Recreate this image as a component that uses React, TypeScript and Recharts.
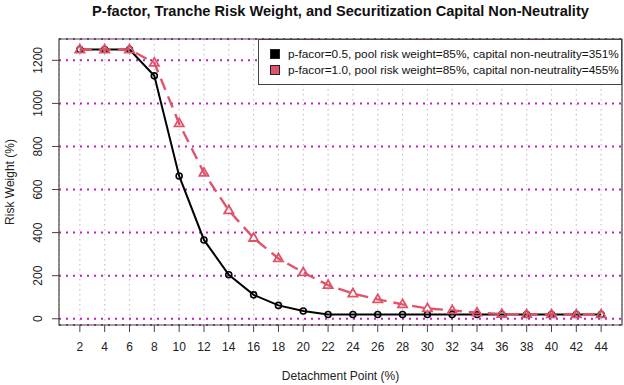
import { LineChart, Line, XAxis, YAxis, CartesianGrid, ReferenceArea } from 'recharts'

const detachment = [2, 4, 6, 8, 10, 12, 14, 16, 18, 20, 22, 24, 26, 28, 30, 32, 34, 36, 38, 40, 42, 44]
const rwHalf = [1250, 1250, 1250, 1128, 663, 366, 204, 111, 62, 36, 20, 20, 20, 20, 20, 20, 20, 20, 20, 20, 20, 20]
const rwOne = [1250, 1250, 1250, 1188, 907, 677, 503, 375, 280, 215, 156, 117, 90, 67, 48, 39, 28, 22, 20, 20, 20, 20]
const yTicks = [0, 200, 400, 600, 800, 1000, 1200]
const xDomain = [0.32, 45.68]
const yDomain = [-29, 1299]

const series = [
  { key: 'half', label: 'p-facor=0.5, pool risk weight=85%, capital non-neutrality=351%', color: '#000000' },
  { key: 'one', label: 'p-facor=1.0, pool risk weight=85%, capital non-neutrality=455%', color: '#DF536B' },
]

const data = detachment.map((d, i) => ({ d, half: rwHalf[i], one: rwOne[i] }))

const FONT = '"Liberation Sans", Arial, sans-serif'
const AXIS = '#444'

const YTick = ({ x, y, payload }: any) => (
  <text x={x} y={y} transform={`rotate(-90, ${x}, ${y})`} textAnchor="middle"
        fontSize={12} fill="#222" fontFamily={FONT}>{payload.value}</text>
)

const CircleDot = ({ cx, cy }: any) =>
  cx == null ? null : <circle cx={cx} cy={cy} r={3} fill="none" stroke="#000" strokeWidth={1.6} />

const TriDot = ({ cx, cy }: any) =>
  cx == null ? null : (
    <polygon points={`${cx},${cy - 5} ${cx - 4.6},${cy + 3} ${cx + 4.6},${cy + 3}`}
             fill="none" stroke="#DF536B" strokeWidth={1.8} />
  )

const LegendBox = () => (
  <div style={{ position: 'absolute', left: 258, top: 39, width: 351, border: `1px solid ${AXIS}`,
                background: '#fff', padding: '6px 0 6px 11px', fontSize: 11.8, color: '#111',
                lineHeight: '16px', whiteSpace: 'nowrap' }}>
    {series.map(s => (
      <div key={s.key} style={{ display: 'flex', alignItems: 'center' }}>
        <span style={{ display: 'inline-block', width: 8, height: 8, background: s.color,
                       border: '1px solid #222', marginRight: 8 }} />
        {s.label}
      </div>
    ))}
  </div>
)

export default function App() {
  return (
    <div style={{ position: 'absolute', left: 0, top: 0, width: 624, height: 385, background: '#fff', fontFamily: FONT }}>
      <div style={{ position: 'absolute', left: 59, width: 563, top: 3, textAlign: 'center',
                    fontWeight: 'bold', fontSize: 14.6, color: '#111' }}>
        P-factor, Tranche Risk Weight, and Securitization Capital Non-Neutrality
      </div>
      <LineChart width={624} height={385} data={data} margin={{ top: 39, right: 2, left: 0, bottom: 0 }}>
        <CartesianGrid horizontal={false} stroke="#c4c4c4" strokeDasharray="1.5 3.5" strokeWidth={1.2} />
        <CartesianGrid vertical={false} stroke="#C020C0" strokeDasharray="2 5" strokeWidth={2} />
        <XAxis dataKey="d" type="number" domain={xDomain} ticks={detachment} interval={0}
               height={60} axisLine={false} tickSize={7} tickMargin={10}
               tickLine={{ stroke: AXIS }} tick={{ fontSize: 12, fill: '#222', fontFamily: FONT }}
               label={{ content: ({ viewBox }: any) => (
                 <text x={viewBox.x + viewBox.width / 2} y={viewBox.y + 55} textAnchor="middle"
                       fontSize={12} fill="#222" fontFamily={FONT}>Detachment Point (%)</text>
               ) }} />
        <YAxis type="number" domain={yDomain} ticks={yTicks} interval={0} width={59}
               axisLine={false} tickSize={7} tickMargin={10} tickLine={{ stroke: AXIS }} tick={<YTick />}
               label={{ content: ({ viewBox }: any) => {
                 const cx = 14, cy = viewBox.y + viewBox.height / 2
                 return <text x={cx} y={cy} transform={`rotate(-90, ${cx}, ${cy})`} textAnchor="middle"
                              fontSize={12} fill="#222" fontFamily={FONT}>Risk Weight (%)</text>
               } }} />
        <ReferenceArea x1={xDomain[0]} x2={xDomain[1]} y1={yDomain[0]} y2={yDomain[1]}
                       fill="none" stroke={AXIS} strokeWidth={1.2} />
        <Line dataKey="half" stroke="#000" strokeWidth={2} dot={<CircleDot />} activeDot={false}
              isAnimationActive={false} />
        <Line dataKey="one" stroke="#DF536B" strokeWidth={2.4} strokeDasharray="12 7" dot={<TriDot />}
              activeDot={false} isAnimationActive={false} />
      </LineChart>
      <LegendBox />
    </div>
  )
}
